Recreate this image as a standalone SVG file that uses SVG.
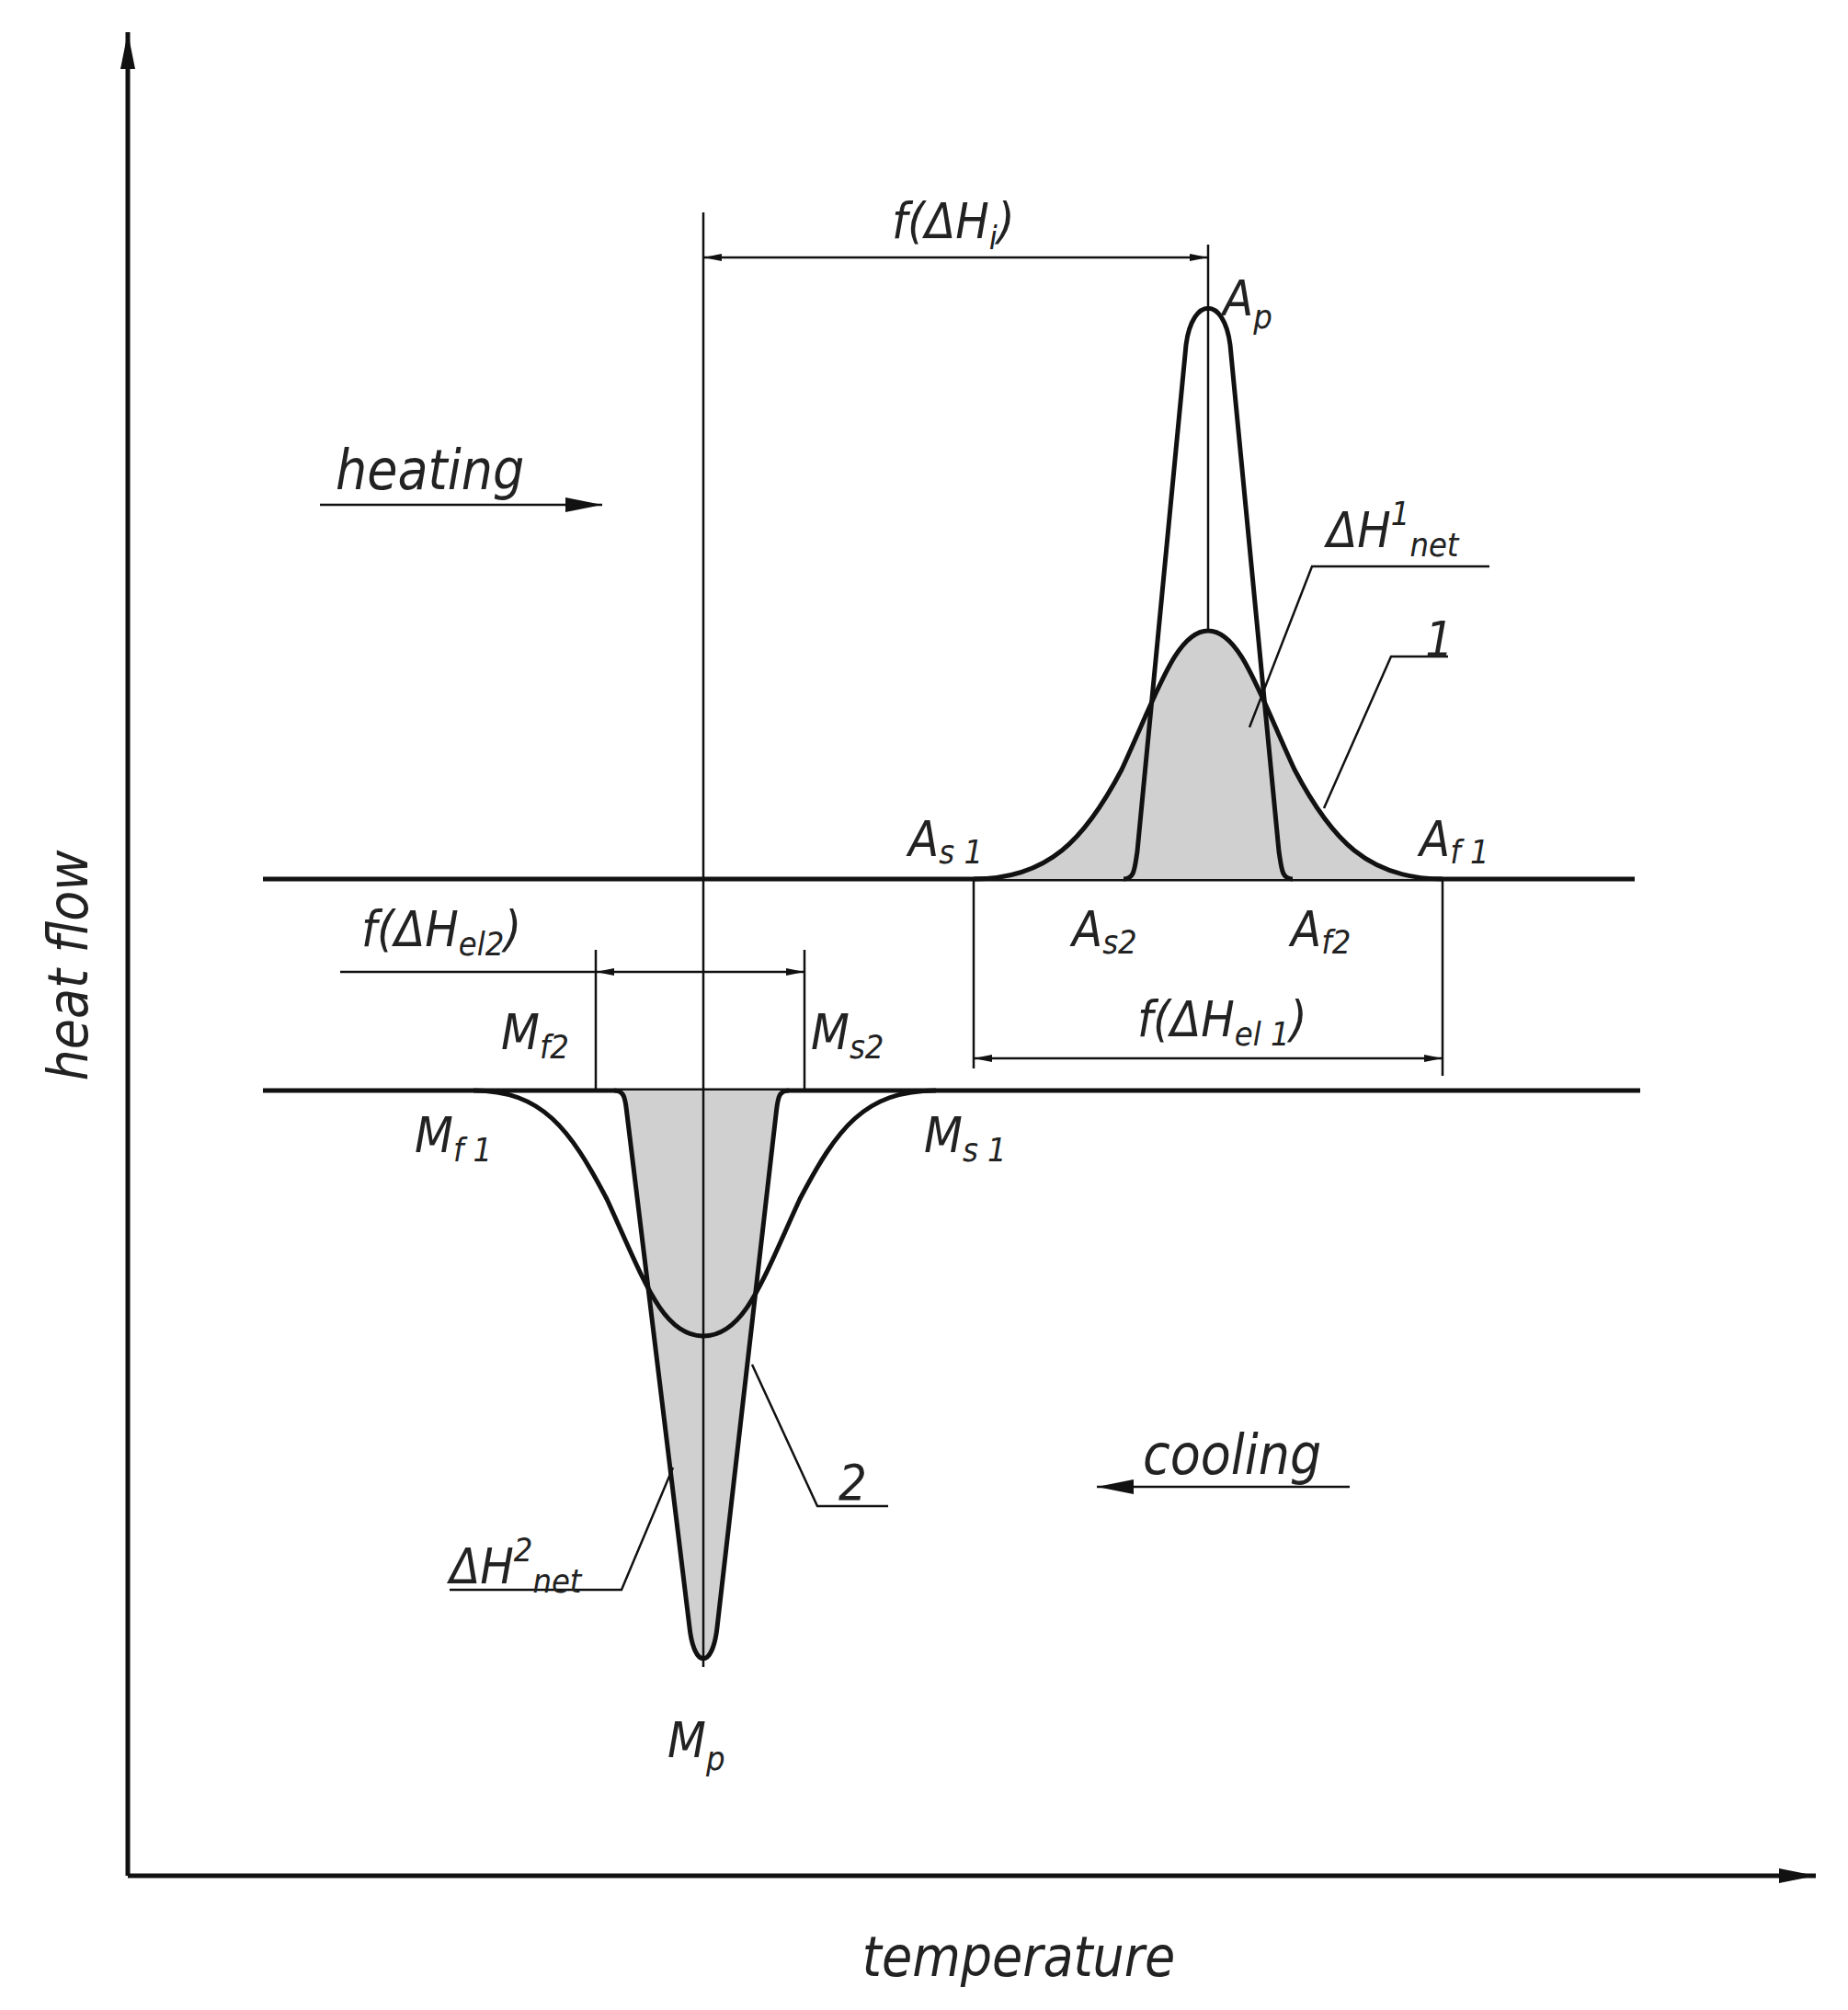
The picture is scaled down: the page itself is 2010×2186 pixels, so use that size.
<svg xmlns="http://www.w3.org/2000/svg" width="2010" height="2186" viewBox="0 0 2010 2186">
<style>
text{font-family:"DejaVu Sans Condensed","Liberation Sans",sans-serif;font-style:italic;font-weight:200;fill:#222}
.t{font-size:60px}.s{font-size:54px}.sub{font-size:36px}
.thin{stroke:#111;stroke-width:2.5;fill:none}
.thick{stroke:#111;stroke-width:5;fill:none}
.curve{stroke:#111;stroke-width:5;fill:none}
</style>
<defs>
<marker id="ah" viewBox="0 0 20 8" refX="20" refY="4" markerWidth="20" markerHeight="8" markerUnits="userSpaceOnUse" orient="auto-start-reverse"><path d="M0,0L20,4L0,8Z" fill="#111"/></marker>
<marker id="big" viewBox="0 0 40 16" refX="40" refY="8" markerWidth="40" markerHeight="16" markerUnits="userSpaceOnUse" orient="auto"><path d="M0,0L40,8L0,16Z" fill="#111"/></marker>
</defs>
<rect width="2010" height="2186" fill="#fff"/>
<g id="axes">
<path class="thick" d="M139,2040V35" marker-end="url(#big)"/>
<path class="thick" d="M139,2040H1975" marker-end="url(#big)"/>
<text class="t" transform="translate(95,1050) rotate(-90)" text-anchor="middle">heat flow</text>
<text class="t" x="1108" y="2149" text-anchor="middle">temperature</text>
</g>
<g id="baselines">
<path class="thick" d="M286,956H1778"/>
<path class="thick" d="M286,1186H1784"/>
</g>
<g id="peak1">
<path fill="#d0d0d0" stroke="none" d="M1059,956 C1140,956 1180,913 1220,837 C1260,750 1280,686 1314,686 C1348,686 1368,750 1408,837 C1448,913 1488,956 1569,956 Z"/>
<path class="curve" d="M1059,956 C1140,956 1180,913 1220,837 C1260,750 1280,686 1314,686 C1348,686 1368,750 1408,837 C1448,913 1488,956 1569,956"/>
<path class="curve" d="M1222,956 C1234,956 1234,945 1237,926 L1290,375 C1297,322 1331,322 1338,375 L1391,926 C1394,945 1394,956 1406,956"/>
</g>
<g id="peak2">
<path fill="#d0d0d0" stroke="none" d="M668,1186 C680,1186 680,1196 682,1212 L750,1770 C755,1815 775,1815 780,1770 L844,1212 C846,1196 846,1186 858,1186 Z"/>
<path class="curve" d="M515,1186 C590,1186 620,1228 660,1304 C700,1391 720,1453 765,1453 C810,1453 830,1391 870,1304 C910,1228 940,1186 1018,1186"/>
<path class="curve" d="M668,1186 C680,1186 680,1196 682,1212 L750,1770 C755,1815 775,1815 780,1770 L844,1212 C846,1196 846,1186 858,1186"/>
</g>
<g id="connectors">
<path class="thin" d="M765,231V1813"/>
<path class="thin" d="M1314,266V686"/>
<path class="thin" d="M765,280H1314" marker-start="url(#ah)" marker-end="url(#ah)"/>
<path class="thin" d="M1059,956V1162M1569,956V1170"/>
<path class="thin" d="M1059,1151H1569" marker-start="url(#ah)" marker-end="url(#ah)"/>
<path class="thin" d="M648,1033V1186M875,1033V1186"/>
<path class="thin" d="M370,1057H648"/>
<path class="thin" d="M648,1057H875" marker-start="url(#ah)" marker-end="url(#ah)"/>
<path class="thin" d="M1359,791L1427,616H1620"/>
<path class="thin" d="M1440,879L1513,714H1575"/>
<path class="thin" d="M818,1484L889,1638H966"/>
<path class="thin" d="M732,1596L676,1729H489"/>
<path class="thin" d="M348,549H655" marker-end="url(#big)"/>
<path class="thin" d="M1468,1617H1193" marker-end="url(#big)"/>
</g>
<g id="labels">
<text class="t" x="365" y="532">heating</text>
<text class="t" x="1243" y="1603">cooling</text>
<text class="s" x="970" y="259">f(ΔH<tspan class="sub" dy="12">i</tspan><tspan dy="-12">)</tspan></text>
<text class="s" x="1330" y="343">A<tspan class="sub" dy="14">p</tspan></text>
<text class="s" x="1443" y="595">ΔH<tspan class="sub" dy="-24">1</tspan><tspan class="sub" dy="34">net</tspan></text>
<text class="s" x="1550" y="714">1</text>
<text class="s" x="988" y="931">A<tspan class="sub" dy="8">s 1</tspan></text>
<text class="s" x="1544" y="931">A<tspan class="sub" dy="8">f 1</tspan></text>
<text class="s" x="1166" y="1029">A<tspan class="sub" dy="8">s2</tspan></text>
<text class="s" x="1404" y="1029">A<tspan class="sub" dy="8">f2</tspan></text>
<text class="s" x="393" y="1029">f(ΔH<tspan class="sub" dy="10">el2</tspan><tspan dy="-10">)</tspan></text>
<text class="s" x="1237" y="1127">f(ΔH<tspan class="sub" dy="10">el 1</tspan><tspan dy="-10">)</tspan></text>
<text class="s" x="545" y="1141">M<tspan class="sub" dy="10">f2</tspan></text>
<text class="s" x="882" y="1141">M<tspan class="sub" dy="10">s2</tspan></text>
<text class="s" x="451" y="1253">M<tspan class="sub" dy="10">f 1</tspan></text>
<text class="s" x="1005" y="1253">M<tspan class="sub" dy="10">s 1</tspan></text>
<text class="s" x="912" y="1631">2</text>
<text class="s" x="489" y="1722">ΔH<tspan class="sub" dy="-24">2</tspan><tspan class="sub" dy="34">net</tspan></text>
<text class="s" x="726" y="1911">M<tspan class="sub" dy="14">p</tspan></text>
</g>
</svg>
